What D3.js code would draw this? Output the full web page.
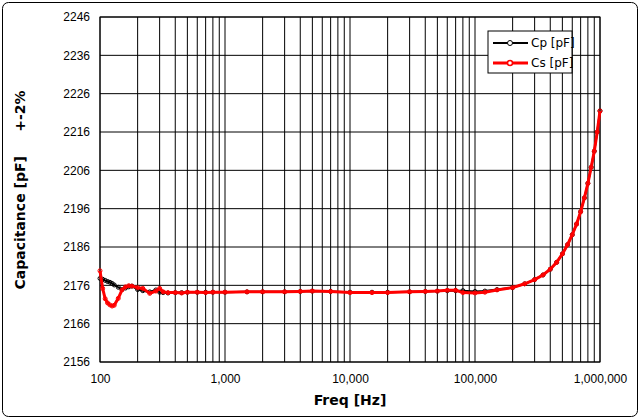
<!DOCTYPE html><html><head><meta charset="utf-8"><script src="https://d3js.org/d3.v7.min.js"></script>
<style>body{margin:0;background:#fff}svg{font-family:"DejaVu Sans",sans-serif}</style></head><body><svg id="c" width="641" height="420"></svg>
<script>
const freq=[100,105,110,115,120,125,130,140,150,160,170,180,200,220,250,280,300,320,350,400,450,500,600,700,800,1000,1500,2000,3000,4000,5000,7000,10000,15000,20000,30000,40000,50000,60000,70000,80000,100000,120000,150000,200000,250000,300000,350000,400000,450000,500000,550000,600000,650000,700000,750000,800000,850000,900000,950000,1000000];
const cp=[2177.8,2177.6,2177.3,2177.0,2176.8,2176.5,2176.1,2175.5,2174.9,2175.3,2175.6,2175.8,2174.9,2174.6,2174.3,2174.8,2174.2,2174.1,2174.0,2174.1,2174.1,2174.2,2174.2,2174.2,2174.2,2174.2,2174.3,2174.3,2174.3,2174.4,2174.5,2174.4,2174.2,2174.2,2174.2,2174.3,2174.4,2174.5,2174.6,2174.6,2174.6,2174.4,2174.5,2174.9,2175.4,2176.4,2177.5,2178.7,2180.2,2182.0,2184.2,2186.6,2189.2,2192.0,2195.2,2198.8,2202.6,2206.8,2211.0,2216.0,2221.5];
const cs=[2179.8,2175.2,2172.5,2171.4,2170.9,2170.6,2170.8,2172.6,2174.8,2175.6,2175.9,2175.8,2175.4,2175.2,2173.9,2174.5,2175.2,2174.3,2174.1,2174.1,2174.0,2174.2,2174.2,2174.1,2174.2,2174.2,2174.3,2174.3,2174.3,2174.4,2174.5,2174.4,2174.1,2174.1,2174.1,2174.3,2174.4,2174.5,2174.7,2174.7,2174.1,2174.0,2174.2,2174.8,2175.4,2176.4,2177.5,2178.7,2180.2,2182.0,2184.2,2186.6,2189.2,2192.0,2195.2,2198.8,2202.6,2206.8,2211.0,2216.0,2221.5];
const yTicks=[2156,2166,2176,2186,2196,2206,2216,2226,2236,2246];
const xTicks=[100,1000,10000,100000,1000000];
const svg=d3.select("#c");
svg.append("rect").attr("x",2.5).attr("y",2.5).attr("width",635).attr("height",414).attr("rx",6).attr("fill","#fff").attr("stroke","#000");
const x=d3.scaleLog().domain([100,1e6]).range([100,600]);
const y=d3.scaleLinear().domain([2156,2246]).range([362,17]);
const g=svg.append("g");
const minors=[];for(let d=100;d<1e6;d*=10)for(let k=1;k<10;k++)minors.push(d*k);minors.push(1e6);
g.selectAll(".vx").data(minors).join("line").attr("x1",d=>x(d)).attr("x2",d=>x(d)).attr("y1",17).attr("y2",362).attr("stroke","#000").attr("stroke-width",1);
g.selectAll(".hy").data(yTicks).join("line").attr("x1",100).attr("x2",600).attr("y1",d=>y(d)).attr("y2",d=>y(d)).attr("stroke","#000");
g.append("rect").attr("x",100).attr("y",17).attr("width",500).attr("height",345).attr("fill","none").attr("stroke","#000");
g.append("g").attr("transform","translate(100,0)").call(d3.axisLeft(y).tickValues(yTicks).tickFormat(d3.format("d")).tickSize(0).tickPadding(10)).call(a=>a.select(".domain").remove()).selectAll("text").attr("font-size",12).attr("fill","#000");
g.append("g").attr("transform","translate(0,362)").call(d3.axisBottom(x).tickValues(xTicks).tickFormat(d3.format(",")).tickSize(0).tickPadding(12)).call(a=>a.select(".domain").remove()).selectAll("text").attr("font-size",12).attr("fill","#000");
const line=d3.line().x((d,i)=>x(freq[i])).y(d=>y(d));
g.append("path").datum(cp).attr("d",line).attr("fill","none").attr("stroke","#000").attr("stroke-width",2);
g.selectAll(".pc").data(cp).join("circle").attr("cx",(d,i)=>x(freq[i])).attr("cy",d=>y(d)).attr("r",2).attr("fill","none").attr("stroke","#000");
g.append("path").datum(cs).attr("d",line).attr("fill","none").attr("stroke","#f00").attr("stroke-width",3);
g.selectAll(".ps").data(cs).join("circle").attr("cx",(d,i)=>x(freq[i])).attr("cy",d=>y(d)).attr("r",2).attr("fill","none").attr("stroke","#f00").attr("stroke-width",1);
svg.append("text").attr("x",350).attr("y",405).attr("text-anchor","middle").attr("font-size",14).attr("font-weight","bold").text("Freq [Hz]");
svg.append("text").attr("transform","translate(25,190) rotate(-90)").attr("text-anchor","middle").attr("font-size",14).attr("font-weight","bold").attr("xml:space","preserve").text("Capacitance [pF]     +-2%");
const lg=svg.append("g").attr("transform","translate(488,31)");
lg.append("rect").attr("width",84).attr("height",42).attr("fill","#fff").attr("stroke","#000");
lg.append("line").attr("x1",5).attr("x2",40).attr("y1",12).attr("y2",12).attr("stroke","#000").attr("stroke-width",2);
lg.append("circle").attr("cx",22).attr("cy",12).attr("r",2.5).attr("fill","#fff").attr("stroke","#000");
lg.append("text").attr("x",43).attr("y",16).attr("font-size",12).text("Cp [pF]");
lg.append("line").attr("x1",5).attr("x2",40).attr("y1",32).attr("y2",32).attr("stroke","#f00").attr("stroke-width",3);
lg.append("circle").attr("cx",22).attr("cy",32).attr("r",2.5).attr("fill","#fff").attr("stroke","#f00").attr("stroke-width",1.5);
lg.append("text").attr("x",43).attr("y",36).attr("font-size",12).text("Cs [pF]");
</script></body></html>
